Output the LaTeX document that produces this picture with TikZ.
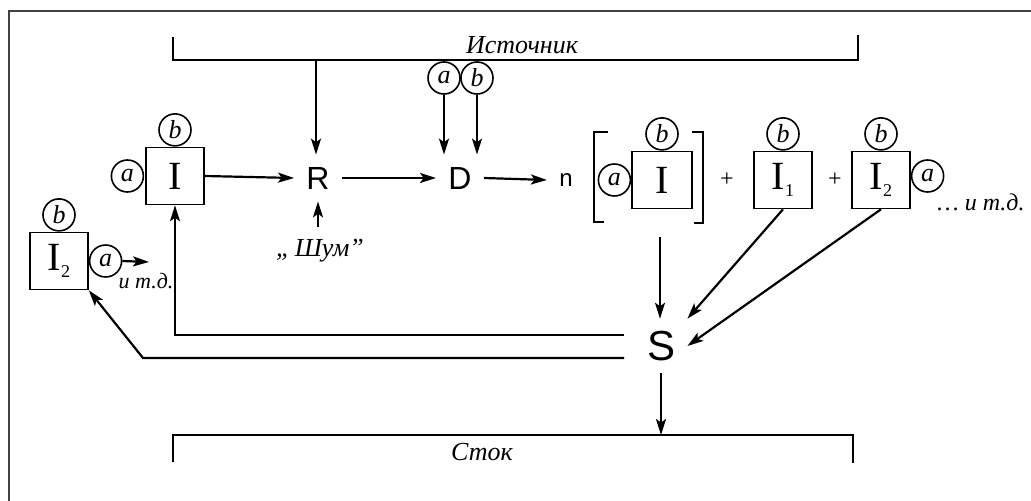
\documentclass[tikz,border=0pt]{standalone}
\usepackage{fontspec}
\setmainfont{Liberation Serif}
\setsansfont{Liberation Sans}
\usetikzlibrary{arrows.meta,positioning}
\newcommand{\sbx}[1]{\raisebox{-0.35ex}{\fontsize{9}{9}\selectfont #1}}
\begin{document}
\begin{tikzpicture}[x=0.5pt,y=-0.5pt,
  ln/.style={line width=1.1pt},
  arr/.style={line width=1.1pt,-{Stealth[length=8pt,width=5pt,inset=1.8pt]}},
  blk/.style={draw,line width=0.8pt,minimum width=29pt,minimum height=28.5pt,inner sep=0pt,font=\fontsize{20}{20}\selectfont},
  circ/.style={draw,circle,line width=0.8pt,minimum size=16pt,inner sep=0pt,font=\itshape\fontsize{13}{13}\selectfont},
  big/.style={font=\sffamily\fontsize{16}{16}\selectfont,inner sep=6pt},
  lbl/.style={font=\itshape\fontsize{13}{13}\selectfont,inner sep=1pt}]
\useasboundingbox (0,0) rectangle (1031,501);
% frame
\draw[line width=0.8pt,black!75] (9,501) -- (9,11) -- (1031,11);
% source and sink bars
\draw[ln] (173,37) -- (173,60) -- (858,60) -- (858,35);
\node[lbl] (srcT) at (522,45) {Источник};
\draw[ln] (173,462) -- (173,435) -- (853,435) -- (853,463);
\node[lbl] (sinkT) at (482,452) {Сток};
\coordinate (srcTap) at (316,60);
\coordinate (sinkTap) at (660,435);
% main chain
\node[blk] (I) at (175,176) {I};
\node[circ,above=0pt of I] (Ib) {b};
\node[circ,left=0.5pt of I] (Ia) {a};
\node[big] (R) at (318,178) {R};
\node[big] (D) at (460,178) {D};
\node[circ] (Da) at (444,78) {a};
\node[circ] (Db) at (477,78) {b};
\node[font=\sffamily\fontsize{12}{12}\selectfont,inner sep=6pt] (n) at (566,180) {n};
\node[lbl] (noise) at (320,251) {„\,Шум”};
% bracketed block
\node[blk,minimum width=30pt] (J) at (662,180) {I};
\node[circ,above=0pt of J] (Jb) {b};
\node[circ,left=0pt of J] (Ja) {a};
\draw[line width=0.8pt] (608,132) -- (594,132) -- (594,222) -- (604,222);
\draw[line width=0.8pt] (692,132) -- (703,132) -- (703,223) -- (694,223);
\node[font=\fontsize{12}{12}\selectfont] (p1) at (727,180) {+};
\node[blk] (I1) at (783,180) {I\sbx{1}};
\node[circ,above=0pt of I1] (I1b) {b};
\node[font=\fontsize{12}{12}\selectfont] (p2) at (835,180) {+};
\node[blk] (I2) at (881,180) {I\sbx{2}};
\node[circ,above=0pt of I2] (I2b) {b};
\node[circ,right=0pt of I2,yshift=2pt] (I2a) {a};
\node[lbl,anchor=west,font=\itshape\fontsize{12}{12}\selectfont] (etc1) at (935,202) {\dots\ и т.д.};
% left block
\node[blk] (L) at (59,261) {I\sbx{2}};
\node[circ,above=0pt of L] (Lb) {b};
\node[circ,right=0pt of L] (La) {a};
\coordinate (Lend) at (149,262);
\node[lbl,font=\itshape\fontsize{11}{11}\selectfont] (etc2) at (146,281) {и т.д.};
% S
\node[big,font=\sffamily\fontsize{21}{21}\selectfont] (S) at (661,346) {S};
\coordinate (Jout) at (660,237);
\coordinate (fb1) at (624,335);
\coordinate (fb2) at (624,358);
\coordinate (fb2c) at (143,358);
% connectors
\draw[arr] (srcTap) -- (srcTap |- R.north);
\draw[arr] (Da.south) -- (Da.south |- D.north);
\draw[arr] (Db.south) -- (Db.south |- D.north);
\draw[arr] (I.east) -- (R.west);
\draw[arr] (R.east) -- (D.west);
\draw[arr] (D.east) -- (n.west);
\draw[arr] (noise.north -| R.south) ++(0,-10) -- (R.south);
\draw[arr] (La.east) -- (Lend);
\draw[arr] (Jout) -- (Jout |- S.north);
\draw[arr] (I1.south) -- (S.north east);
\draw[arr] (I2.south) -- (S.east);
\draw[arr] (S.south) -- (S.south |- sinkTap);
\draw[arr] (fb1) -- (I.south |- fb1) -- (I.south);
\draw[arr] (fb2) -- (fb2c) -- (L.south east);
\end{tikzpicture}
\end{document}
